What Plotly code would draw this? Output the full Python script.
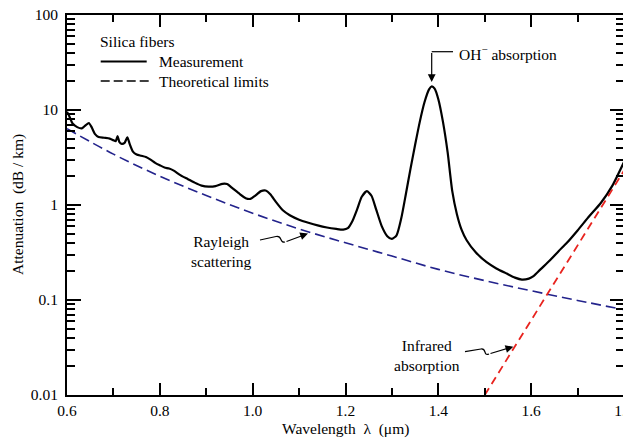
import plotly.graph_objects as go

# ---------------- data ----------------
meas_x = [0.600, 0.605, 0.612, 0.622, 0.632, 0.640, 0.647, 0.653, 0.660, 0.668,
          0.680, 0.692, 0.700, 0.705, 0.709, 0.713, 0.718, 0.724, 0.730, 0.735,
          0.742, 0.750, 0.760, 0.770, 0.780, 0.790, 0.800, 0.810, 0.820, 0.830,
          0.845, 0.860, 0.875, 0.890, 0.905, 0.920, 0.935, 0.945, 0.955, 0.970,
          0.985, 0.995, 1.005, 1.018, 1.028, 1.038, 1.050, 1.065, 1.080, 1.100,
          1.120, 1.140, 1.160, 1.180, 1.195, 1.205, 1.215, 1.225, 1.235, 1.246,
          1.256, 1.266, 1.278, 1.290, 1.300, 1.310, 1.320, 1.330, 1.340, 1.350,
          1.360, 1.370, 1.380, 1.386, 1.392, 1.400, 1.410, 1.420, 1.430, 1.440,
          1.450, 1.461, 1.480, 1.504, 1.525, 1.547, 1.565, 1.580, 1.595, 1.605,
          1.620, 1.640, 1.660, 1.677, 1.700, 1.725, 1.750, 1.775, 1.800]
meas_y = [9.6, 8.6, 7.2, 6.6, 6.4, 6.9, 7.3, 6.6, 5.6, 5.2,
          5.1, 5.0, 4.8, 4.7, 5.3, 4.6, 4.4, 4.5, 5.15, 4.4,
          3.65, 3.4, 3.3, 3.2, 3.0, 2.78, 2.62, 2.48, 2.42, 2.3,
          2.05, 1.88, 1.72, 1.6, 1.56, 1.58, 1.67, 1.66, 1.52, 1.33,
          1.18, 1.16, 1.25, 1.4, 1.42, 1.3, 1.08, 0.88, 0.78, 0.70,
          0.65, 0.61, 0.58, 0.56, 0.55, 0.57, 0.68, 0.9, 1.22, 1.40,
          1.25, 0.9, 0.6, 0.47, 0.44, 0.48, 0.72, 1.3, 2.4, 4.3,
          7.5, 12.0, 16.5, 17.7, 16.8, 13.0, 7.5, 3.6, 1.4, 0.8,
          0.55, 0.425, 0.32, 0.25, 0.215, 0.19, 0.172, 0.164, 0.168, 0.178,
          0.21, 0.26, 0.33, 0.40, 0.54, 0.76, 1.05, 1.6, 2.83]

rayleigh_x = [0.6, 0.7, 0.8, 0.9, 1.0, 1.1, 1.2, 1.3, 1.4, 1.5, 1.6, 1.7, 1.8]
rayleigh_y = [6.36, 3.43, 2.01, 1.26, 0.82, 0.56, 0.40, 0.29, 0.21, 0.16, 0.125, 0.099, 0.079]

infrared_x = [1.5, 1.6, 1.7, 1.8]
infrared_y = [0.01, 0.061, 0.37, 2.3]

x_range = [0.6, 1.8]
x_major = [0.6, 0.8, 1.0, 1.2, 1.4, 1.6, 1.8]
x_labels = ["0.6", "0.8", "1.0", "1.2", "1.4", "1.6", "1.8"]
x_minor = [0.7, 0.9, 1.1, 1.3, 1.5, 1.7]
y_range_log = [-2, 2]
y_major = [0.01, 0.1, 1, 10, 100]
y_labels = ["0.01", "0.1", "1", "10", "100"]
y_minor = [m * d for d in (0.01, 0.1, 1, 10) for m in range(2, 10)]

# ---------------- layout geometry ----------------
# the page body adds an 8px offset; reference plot area spans x 67..624, y 15..395
OFF = 8
W, H = 631 - OFF, 439 - OFF
L, R, T, B = 67 - OFF, 7, 15 - OFF, 44
PW, PH = W - L - R, H - T - B


def px(xp):  # page pixel -> paper x
    return (xp - OFF - L) / PW


def py(yp):  # page pixel -> paper y
    return (OFF + T + PH - yp) / PH


FONT = "Liberation Serif"
FS = 15.5
fig = go.Figure()

fig.add_trace(go.Scatter(x=meas_x, y=meas_y, mode="lines",
                         line=dict(color="black", width=2.2, shape="spline", smoothing=0.6),
                         showlegend=False))
fig.add_trace(go.Scatter(x=rayleigh_x, y=rayleigh_y, mode="lines",
                         line=dict(color="#23238c", width=1.6, dash="10px,5px", shape="spline"),
                         showlegend=False))
fig.add_trace(go.Scatter(x=infrared_x, y=infrared_y, mode="lines",
                         line=dict(color="#e8231e", width=1.8, dash="8px,5px"),
                         showlegend=False))

axis_common = dict(showline=True, linecolor="black", linewidth=2, mirror="allticks",
                   ticks="inside", tickcolor="black", tickwidth=2, showgrid=False,
                   zeroline=False, automargin=False, ticklabeloverflow="allow",
                   tickfont=dict(family=FONT, size=FS, color="black"))

fig.update_xaxes(range=x_range, tickmode="array", tickvals=x_major, ticktext=x_labels,
                 ticklen=12, ticklabelstandoff=0,
                 minor=dict(tickmode="array", tickvals=x_minor, ticks="inside", ticklen=7,
                            tickcolor="black", tickwidth=2),
                 **axis_common)
fig.update_yaxes(type="log", range=y_range_log, tickmode="array", tickvals=y_major,
                 ticktext=y_labels, ticklen=14, ticklabelstandoff=4,
                 minor=dict(tickmode="array", tickvals=y_minor, ticks="inside", ticklen=8,
                            tickcolor="black", tickwidth=2),
                 **axis_common)

ann = []
shapes = []


def text(x, y, s, xanchor="left", **kw):
    ann.append(dict(x=px(x), y=py(y), xref="paper", yref="paper", text=s, showarrow=False,
                    xanchor=xanchor, yanchor="middle",
                    font=dict(family=FONT, size=FS, color="black"), **kw))


# axis titles
text(345.5, 429, "Wavelength  λ  (μm)", xanchor="center")
text(18, 205, "Attenuation  (dB / km)", xanchor="center", textangle=-90)

# legend-like block
text(98, 41, "Silica fibers")
shapes.append(dict(type="line", xref="paper", yref="paper", x0=px(100.7), x1=px(146.7),
                   y0=py(61.5), y1=py(61.5), line=dict(color="black", width=2.2)))
text(157, 61, "Measurement")
shapes.append(dict(type="line", xref="paper", yref="paper", x0=px(100.7), x1=px(151.7),
                   y0=py(81), y1=py(81), line=dict(color="black", width=1.6, dash="9px,4px")))
text(157, 81, "Theoretical limits")

# OH- absorption
text(457, 53, "OH<sup>−</sup> absorption")
shapes.append(dict(type="line", xref="paper", yref="paper", x0=px(453), x1=px(431.7),
                   y0=py(51.7), y1=py(51.7), line=dict(color="black", width=1.2)))
ann.append(dict(x=px(431.7), y=py(82), xref="paper", yref="paper", ax=0, ay=-30.5,
                text="", showarrow=True, arrowhead=2, arrowsize=1.3, arrowwidth=1.2,
                arrowcolor="black"))

# Rayleigh scattering
text(221, 251.5, "Rayleigh<br>scattering", xanchor="center")
shapes.append(dict(type="path", xref="paper", yref="paper",
                   path=(f"M{px(260)},{py(240)} L{px(276)},{py(236.5)} "
                         f"C{px(283)},{py(235)} {px(279)},{py(243.5)} {px(285)},{py(242)}"),
                   line=dict(color="black", width=1.2)))
ann.append(dict(x=px(308), y=py(233.5), xref="paper", yref="paper", ax=-23, ay=8.5,
                text="", showarrow=True, arrowhead=2, arrowsize=1.3, arrowwidth=1.2,
                arrowcolor="black"))

# Infrared absorption
text(426.7, 355, "Infrared<br>absorption", xanchor="center")
shapes.append(dict(type="path", xref="paper", yref="paper",
                   path=(f"M{px(465)},{py(351.7)} L{px(481)},{py(349)} "
                         f"C{px(487)},{py(348)} {px(483)},{py(356.5)} {px(489)},{py(354)}"),
                   line=dict(color="black", width=1.2)))
ann.append(dict(x=px(513.3), y=py(346.7), xref="paper", yref="paper", ax=-24.3, ay=7.3,
                text="", showarrow=True, arrowhead=2, arrowsize=1.3, arrowwidth=1.2,
                arrowcolor="black"))

fig.update_layout(template="none", width=W, height=H, margin=dict(l=L, r=R, t=T, b=B),
                  paper_bgcolor="white", plot_bgcolor="white",
                  annotations=ann, shapes=shapes, showlegend=False,
                  font=dict(family=FONT, size=FS, color="black"))

fig.write_html("out.html")
